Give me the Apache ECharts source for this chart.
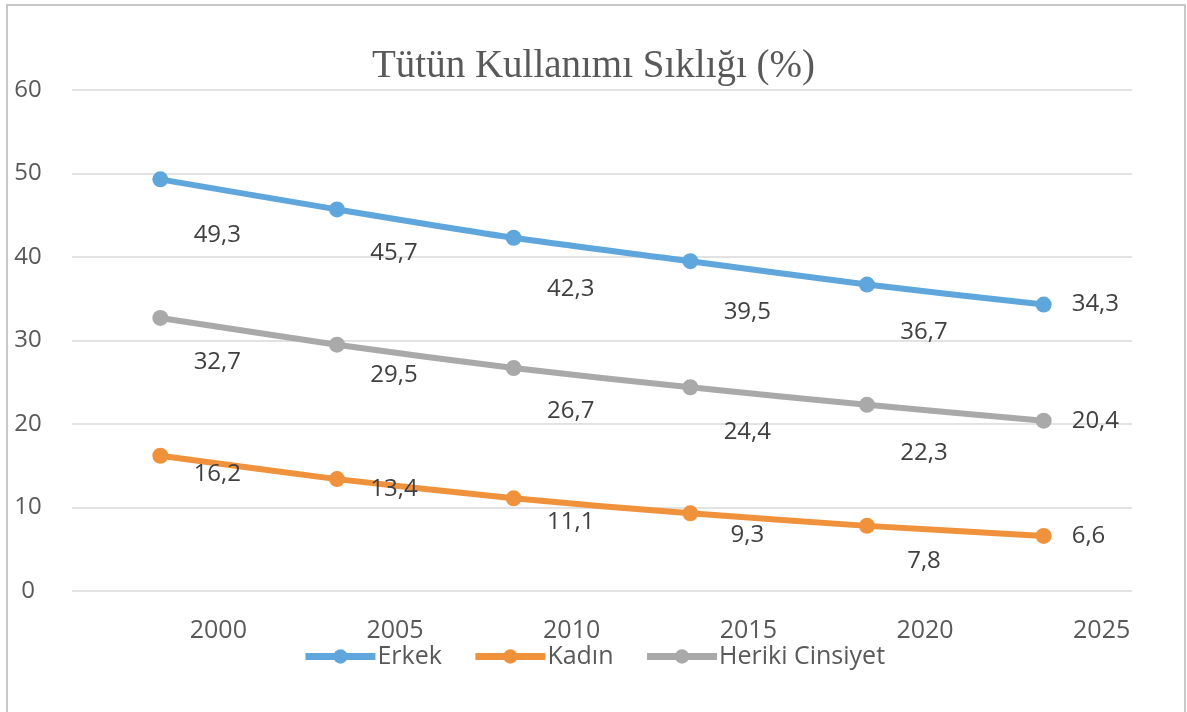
<!DOCTYPE html>
<html>
<head>
<meta charset="utf-8">
<script src="https://cdn.jsdelivr.net/npm/echarts@6/dist/echarts.min.js"></script>
<style>
  html, body { margin: 0; padding: 0; background: #fff; }
  #chart { width: 1187px; height: 712px; }
</style>
</head>
<body>
<div id="chart"></div>
<script>
// veriler
var years = ['2000', '2005', '2010', '2015', '2020', '2025'];
var erkek = [49.3, 45.7, 42.3, 39.5, 36.7, 34.3];
var kadin = [16.2, 13.4, 11.1, 9.3, 7.8, 6.6];
var herikiCinsiyet = [32.7, 29.5, 26.7, 24.4, 22.3, 20.4];

// etiketlerin noktaya göre dikey kayması (Excel görünümü)
var erkekDy = [56, 44, 51, 51, 48];
var kadinDy = [18, 10, 24, 22, 35];
var herikiDy = [44, 30, 43, 45, 48];

var FONT = 'Open Sans';
var TXT = '#595959';

function fmt(v) {
  return String(v).replace('.', ',');
}

function buildData(values, dys) {
  return values.map(function (v, i) {
    if (i === values.length - 1) {
      return { value: v, label: { position: 'right', distance: 20 } };
    }
    return { value: v, label: { position: 'inside', offset: [57, dys[i]] } };
  });
}

function makeSeries(name, color, values, dys) {
  return {
    name: name,
    type: 'line',
    smooth: 0.25,
    symbol: 'circle',
    symbolSize: 16,
    lineStyle: { width: 6, color: color },
    itemStyle: { color: color },
    label: {
      show: true,
      color: '#404040',
      fontSize: 24,
      fontFamily: FONT,
      formatter: function (p) { return fmt(p.value); }
    },
    data: buildData(values, dys)
  };
}

var myChart = echarts.init(document.getElementById('chart'));
var option = {
  backgroundColor: '#fff',
  animation: false,
  title: {
    text: 'Tütün Kullanımı Sıklığı (%)',
    left: 'center',
    top: 42,
    textStyle: {
      fontFamily: 'Liberation Serif',
      fontWeight: 'normal',
      fontSize: 39,
      color: TXT
    }
  },
  graphic: [{
    type: 'rect',
    shape: { x: 7, y: 5, width: 1178, height: 720 },
    style: { fill: 'none', stroke: '#c8c8c8', lineWidth: 2 },
    silent: true
  }],
  legend: {
    bottom: 38,
    left: 'center',
    itemWidth: 70,
    itemHeight: 18,
    itemGap: 30,
    lineStyle: { width: 7 },
    textStyle: { color: TXT, fontSize: 25, fontFamily: FONT, padding: [0, 0, 0, -3] },
    data: ['Erkek', 'Kadın', 'Heriki Cinsiyet']
  },
  grid: {
    left: 72,
    right: 55,
    top: 90,
    bottom: 121
  },
  xAxis: {
    type: 'category',
    boundaryGap: true,
    data: years,
    axisLine: { show: false },
    axisTick: { show: false },
    axisLabel: {
      color: TXT,
      fontSize: 25,
      fontFamily: FONT,
      margin: 27,
      padding: [0, 0, 0, 116]
    }
  },
  yAxis: {
    type: 'value',
    min: 0,
    max: 60,
    interval: 10,
    axisLine: { show: false },
    axisTick: { show: false },
    axisLabel: {
      color: TXT,
      fontSize: 24,
      fontFamily: FONT,
      margin: 44,
      align: 'center',
      padding: [6, 0, 0, 0]
    },
    splitLine: { lineStyle: { color: '#d9d9d9', width: 1.5 } }
  },
  series: [
    makeSeries('Erkek', '#5fa6dc', erkek, erkekDy),
    makeSeries('Kadın', '#f0913c', kadin, kadinDy),
    makeSeries('Heriki Cinsiyet', '#a9a9a9', herikiCinsiyet, herikiDy)
  ]
};
myChart.setOption(option);
window.addEventListener('resize', function () {
  myChart.resize();
});
</script>
</body>
</html>
